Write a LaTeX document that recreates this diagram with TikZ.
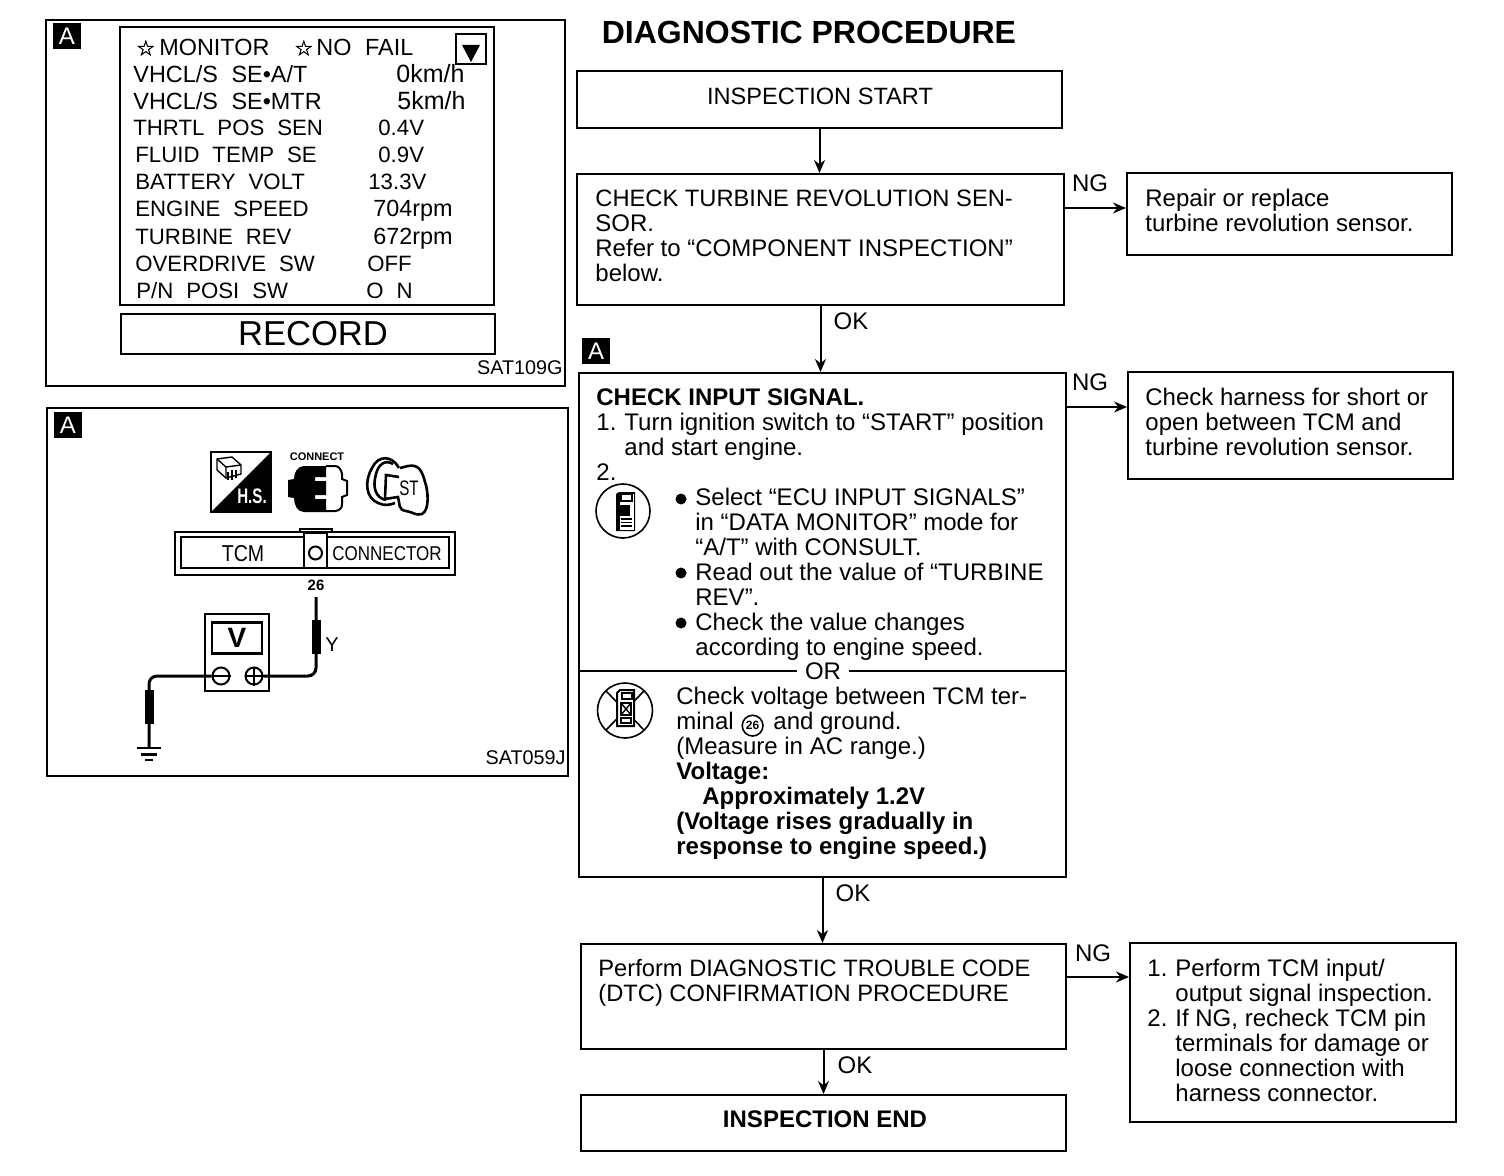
\documentclass[tikz,border=0pt]{standalone}
\usepackage{fontspec}
\setmainfont{Liberation Sans}
\newfontfamily\lcdfont[WordSpace=2.1]{Liberation Sans}
\newfontfamily\symfont[FakeBold=1.5]{DejaVu Sans}
\newfontfamily\condfont[FakeStretch=0.85]{Liberation Sans}
\newfontfamily\narrowfont[FakeStretch=0.72]{Liberation Sans}
\usetikzlibrary{arrows.meta,positioning,calc}
\newcommand{\circnum}[1]{\hspace{0.5pt}\tikz[baseline=(cn.base)]\node[circle,draw,line width=0.8pt,inner sep=0.9pt,font=\fontsize{6}{6}\selectfont\bfseries] (cn) {#1};\hspace{1.5pt}}
\newcommand{\lstar}{{\symfont\fontsize{10.5}{10}\selectfont ☆}}

\begin{document}
\begin{tikzpicture}[
  x=0.5pt, y=-0.5pt,
  txt/.style={inner sep=0pt, align=left, anchor=north west, font=\fontsize{12}{12.5}\selectfont},
  lab/.style={inner sep=0pt, font=\fontsize{12}{12.5}\selectfont},
  lcd/.style={inner sep=0pt, anchor=base west, font=\lcdfont\fontsize{11.1}{12}\selectfont},
  lcdw/.style={lcd, font=\lcdfont\fontsize{11.7}{12}\selectfont},
  code/.style={inner sep=0pt, anchor=east, font=\fontsize{9.9}{11}\selectfont},
  badge/.style={fill=black, text=white, minimum width=14pt, minimum height=13pt, inner sep=0pt, font=\fontsize{12}{12}\selectfont},
  box/.style={draw, line width=1pt, inner sep=0pt, minimum width=#1},
  arr/.style={line width=1pt, -{Stealth[length=6.5pt,width=5.5pt]}},
  panel/.style={draw, line width=1pt, inner sep=0pt},
  wire/.style={line width=1.5pt, rounded corners=4pt},
  probe/.style={fill=black, inner sep=0pt, minimum width=4.5pt, minimum height=17pt},
  term/.style={draw, circle, line width=1pt, inner sep=0pt, minimum size=8.5pt},
  dot/.style={fill=black, circle, inner sep=0pt, minimum size=5.5pt}
]
\useasboundingbox (0,0) rectangle (1504,1176);

% flow chart boxes
\node[lab, font=\fontsize{16}{16}\selectfont\bfseries] (title) at (809,32) {DIAGNOSTIC PROCEDURE};
\node[box=242.5pt, minimum height=28.5pt] (start) at (819.5,99.5) {};
\node[lab, font=\fontsize{11.8}{12.5}\selectfont] (startlbl) at (820,96) {INSPECTION START};
\node[box=243.5pt, minimum height=65.5pt] (chk) at (820.5,239.5) {};
\node[box=162.5pt, minimum height=41pt] (repair) at (1289.5,214) {};
\node[box=243.5pt, minimum height=252pt] (input) at (822.5,625) {};
\node[box=162.5pt, minimum height=53.5pt] (harness) at (1290.5,425.5) {};
\node[box=242.5pt, minimum height=52.5pt] (dtc) at (823.5,996.5) {};
\node[box=163pt, minimum height=89.5pt] (tcmbox) at (1293,1032.5) {};
\node[box=242.5pt, minimum height=28pt] (endbox) at (823.5,1123) {};
\node[lab, font=\fontsize{12}{12.5}\selectfont\bfseries] (endlbl) at (825,1119) {INSPECTION END};

\node[txt] (chktxt) at (595,190) {{\fontsize{11.85}{12.5}\selectfont CHECK TURBINE REVOLUTION SEN-}\\SOR.\\Refer to “COMPONENT INSPECTION”\\below.};
\node[txt] (repairtxt) at (1145,189) {Repair or replace\\turbine revolution sensor.};
\node[txt] (inputtxt) at (596,388) {\textbf{CHECK INPUT SIGNAL.}\\\makebox[14pt][l]{1.}Turn ignition switch to “START” position\\\hspace*{14pt}and start engine.\\2.};
\node[txt] (bullettxt) at (695,488) {Select “ECU INPUT SIGNALS”\\in “DATA MONITOR” mode for\\“A/T” with CONSULT.\\Read out the value of “TURBINE\\REV”.\\Check the value changes\\according to engine speed.};
\node[dot] (dota) at (681,499) {};
\node[dot] (dotb) at (681,573) {};
\node[dot] (dotc) at (681,623) {};
\node[txt] (volttxt) at (676,687) {Check voltage between TCM ter-\\minal \circnum{26} and ground.\\(Measure in AC range.)\\\textbf{Voltage:}\\\hspace*{13pt}\textbf{Approximately 1.2V}\\\textbf{(Voltage rises gradually in}\\\textbf{response to engine speed.)}};
\node[txt] (harnesstxt) at (1145,388) {Check harness for short or\\open between TCM and\\turbine revolution sensor.};
\node[txt, font=\fontsize{11.85}{12.5}\selectfont] (dtctxt) at (598,959) {Perform DIAGNOSTIC TROUBLE CODE\\(DTC) CONFIRMATION PROCEDURE};
\node[txt] (tcmtxt) at (1147,959) {\makebox[14pt][l]{1.}Perform TCM input/\\\hspace*{14pt}output signal inspection.\\\makebox[14pt][l]{2.}If NG, recheck TCM pin\\\hspace*{14pt}terminals for damage or\\\hspace*{14pt}loose connection with\\\hspace*{14pt}harness connector.};

\node[lab, fill=white, inner xsep=4pt, inner ysep=0pt] (orlbl) at (823,671) {OR};
\draw[line width=1pt] (input.west |- orlbl) -- (orlbl.west);
\draw[line width=1pt] (orlbl.east) -- (input.east |- orlbl);
\node[badge] (badgeflow) at (596,351) {A};

\node[lab] (ng1) at (1090,183) {NG};
\node[lab] (ok1) at (851,321) {OK};
\node[lab] (ng2) at (1090,382) {NG};
\node[lab] (ok2) at (853,893) {OK};
\node[lab] (ng3) at (1093,953) {NG};
\node[lab] (ok3) at (855,1065) {OK};

\draw[arr] (start.south) -- (start.south |- chk.north);
\draw[arr] (chk.south) -- (chk.south |- input.north);
\draw[arr] (input.south) -- (input.south |- dtc.north);
\draw[arr] (dtc.south) -- (dtc.south |- endbox.north);
\draw[arr] ([yshift=15.75pt]chk.east) -- ([yshift=3pt]repair.west);
\draw[arr] ([yshift=109pt]input.east) -- ([yshift=9.25pt]harness.west);
\draw[arr] ([yshift=9.75pt]dtc.east) -- ([yshift=27.75pt]tcmbox.west);

% consult icon
\draw[line width=0.8pt] (623,511) circle (27);
\fill (616,494) -- (619,492) -- (635,492) -- (635,531) -- (616,531) -- cycle;
\fill[white] (620,494) rectangle (633.5,529.5);
\draw[line width=0.7pt] (621,494) rectangle (632,501);
\fill (619,505) rectangle (630,516);
\draw[line width=0.7pt] (621,519) -- (632,519) (621,522.5) -- (632,522.5) (621,526) -- (632,526);
% no consult icon
\draw[line width=0.8pt] (625,710.5) circle (27.5);
\draw[line width=0.8pt] (606,691) -- (644,730) (644,691) -- (606,730);
\draw[line width=1pt, fill=white] (617,693) -- (620,690) -- (634,690) -- (634,726) -- (617,726) -- cycle;
\draw[line width=0.7pt] (622,693) rectangle (632,699);
\draw[line width=0.7pt] (621,703) rectangle (631,715);
\draw[line width=0.7pt] (621,703) -- (631,715) (631,703) -- (621,715);
\draw[line width=0.7pt] (621,718) rectangle (631,723);

% data monitor panel
\node[panel, minimum width=259.5pt, minimum height=183pt] (panela) at (305.5,203) {};
\node[badge] (badgea) at (67,36) {A};
\node[panel, line width=1.3pt, minimum width=187pt, minimum height=139pt] (screen) at (307,166) {};
\node[panel, line width=1.3pt, minimum width=187pt, minimum height=20pt] (record) at (308,334) {};
\node[lab, font=\fontsize{17.3}{18}\selectfont] (recordlbl) at (313,334) {RECORD};
\node[panel, line width=1.3pt, minimum width=15pt, minimum height=15pt] (downbox) at (471,49) {};
\fill (462,45) -- (480,45) -- (471,62) -- cycle;
\node[lcdw] (mon) at (136,55.5) {\lstar};
\node[lcdw] (monlbl) at (159,55.5) {MONITOR};
\node[lcdw] (nof) at (294,55.5) {\lstar};
\node[lcdw] (noflbl) at (316,55.5) {NO FAIL};
\node[lcdw] (vat) at (133,82.5) {VHCL/S SE•A/T};
\node[lcdw, font=\lcdfont\fontsize{12.5}{12}\selectfont] (vatv) at (396,82.5) {0km/h};
\node[lcdw] (vmt) at (133,109.5) {VHCL/S SE•MTR};
\node[lcdw, font=\lcdfont\fontsize{12.5}{12}\selectfont] (vmtv) at (397,109.5) {5km/h};
\node[lcd] (thr) at (133,135.5) {THRTL POS SEN};
\node[lcd] (thrv) at (378,135.5) {0.4V};
\node[lcd] (flu) at (135,162.5) {FLUID TEMP SE};
\node[lcd] (fluv) at (378,162.5) {0.9V};
\node[lcd] (bat) at (135,189.5) {BATTERY VOLT};
\node[lcd] (batv) at (368,189.5) {13.3V};
\node[lcd] (eng) at (135,216.5) {ENGINE SPEED};
\node[lcdw] (engv) at (373,217) {704rpm};
\node[lcd] (tur) at (135,244.5) {TURBINE REV};
\node[lcdw] (turv) at (373,245) {672rpm};
\node[lcd] (ovd) at (135,271.5) {OVERDRIVE SW};
\node[lcd] (ovdv) at (367,271.5) {OFF};
\node[lcd] (pnp) at (136,298.5) {P/N POSI SW};
\node[lcd] (pnpv) at (366,298.5) {O N};
\node[code] (codea) at (563,368) {SAT109G};

% connector panel
\node[panel, minimum width=260.5pt, minimum height=184pt] (panelb) at (307.5,592) {};
\node[badge] (badgeb) at (68,425) {A};
\node[code] (codeb) at (566,758) {SAT059J};

% harness icon
\draw[line width=1pt] (211,452) rectangle (271,512);
\fill (271,452) -- (271,512) -- (211,512) -- cycle;
\node[lab, text=white, font=\narrowfont\fontsize{10.5}{10.5}\selectfont\bfseries] (hslbl) at (252,496) {H.S.};
\draw[line width=0.7pt] (217,459) -- (232,457) -- (241,465) -- (241,474) -- (226,478) -- (217,470) -- cycle;
\draw[line width=0.7pt] (217,459) -- (226,467) -- (241,465) (226,467) -- (226,478);
\draw[line width=0.6pt] (228,472) -- (228,480) (232,470) -- (232,480) (236,470) -- (236,478);

% connect icon
\node[lab, font=\fontsize{5.5}{6}\selectfont\bfseries] (connlbl) at (317,457) {CONNECT};
\draw[line width=1pt] (326,466) -- (335,466) to[out=0,in=100] (342,474) -- (342,479) -- (347,481) -- (347,495) -- (342,497) -- (342,504) to[out=-80,in=0] (335,511) -- (326,511);
\fill (326,466) -- (326,477) -- (315,477) -- (315,481) -- (326,481) -- (326,495) -- (315,495) -- (315,499) -- (326,499) -- (326,512) -- (304,512) to[out=180,in=-90] (294,498) -- (288,497) -- (288,480) -- (294,479) to[out=90,in=180] (304,466) -- cycle;

% key icon
\draw[line width=1.3pt] (399,468) .. controls (392,455) and (378,455) .. (372,468) .. controls (364,482) and (366,498) .. (378,503) .. controls (384,506) and (390,505) .. (395,503);
\draw[line width=1.3pt] (393,464) .. controls (385,459) and (378,465) .. (376,474) .. controls (372,488) and (376,498) .. (386,500);
\draw[line width=1.3pt] (399,477) -- (386,475) -- (385,499) -- (398,497) .. controls (400,504) and (398,510) .. (406,511) .. controls (413,512) and (416,516) .. (422,514) .. controls (430,510) and (428,490) .. (425,482) .. controls (422,470) and (418,464) .. (408,466) -- (400,468);
\node[lab, font=\narrowfont\fontsize{10.5}{10.5}\selectfont] (stlbl) at (409,488) {ST};

% tcm connector
\draw[line width=1pt] (300,533) -- (300,529) -- (332,529) -- (332,533);
\node[panel, line width=1.3pt, minimum width=140pt, minimum height=21.5pt] (conn) at (315,553.5) {};
\node[panel, minimum width=134pt, minimum height=15.5pt] (conninner) at (315,552.5) {};
\draw[line width=1.2pt, fill=white] (304,533) rectangle (327,568);
\node[draw, circle, line width=1pt, inner sep=0pt, minimum size=6.5pt] (pin) at (315.5,553) {};
\node[lab, font=\condfont\fontsize{11.5}{11}\selectfont] (tcmlbl) at (243,554) {TCM};
\node[lab, font=\condfont\fontsize{10}{11}\selectfont] (connector) at (387,554) {CONNECTOR};
\node[lab, font=\fontsize{7.5}{8}\selectfont\bfseries] (pinnum) at (316,585) {26};

% voltmeter
\node[panel, line width=1.3pt, minimum width=32pt, minimum height=38.5pt] (meter) at (237,652.5) {};
\node[panel, line width=1.3pt, minimum width=25pt, minimum height=15.5pt, font=\fontsize{14}{14}\selectfont\bfseries] (vdisp) at (237,638) {V};
\node[term] (vminus) at (221,676) {};
\node[term] (vplus) at (254,676) {};
\draw[line width=1pt] (vminus.west) -- (vminus.east) (vplus.west) -- (vplus.east) (vplus.north) -- (vplus.south);
\coordinate (ytip) at (316,597);
\coordinate (gndtop) at (149,748);
\draw[wire] (vplus.east) -| (ytip);
\draw[wire] (vminus.west) -| (gndtop);
\node[probe] (probey) at (316,637) {};
\node[probe] (probeg) at (149,707) {};
\node[lab, font=\fontsize{10}{10}\selectfont] (ylbl) at (332,645) {Y};
\draw[line width=1.3pt] ([xshift=-6pt]gndtop) -- ([xshift=6pt]gndtop);
\draw[line width=1.5pt] ([xshift=-4pt,yshift=-3pt]gndtop) -- ([xshift=4pt,yshift=-3pt]gndtop);
\draw[line width=1.3pt] ([xshift=-2pt,yshift=-6pt]gndtop) -- ([xshift=2pt,yshift=-6pt]gndtop);
\end{tikzpicture}
\end{document}
